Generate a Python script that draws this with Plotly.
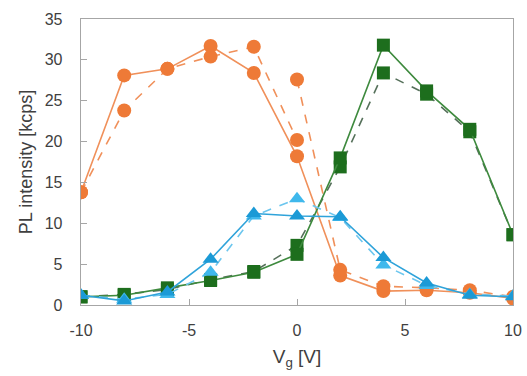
import plotly.graph_objects as go

vg = [-10, -8, -6, -4, -2, 0, 2, 4, 6, 8, 10]
vg_neg = [-10, -8, -6, -4, -2, 0]
vg_pos = [0, 2, 4, 6, 8, 10]

orange_solid = [13.8, 28.1, 28.9, 31.7, 28.4, 18.2, 3.6, 1.7, 1.8, 1.5, 0.8]
orange_dash_neg = [13.8, 23.8, 28.9, 30.4, 31.6, 20.2]
orange_dash_pos = [27.6, 4.3, 2.3, 2.1, 1.8, 1.0]

green_solid = [1.0, 1.2, 2.1, 3.0, 4.0, 6.2, 18.0, 31.8, 26.2, 21.5, 8.6]
green_dash = [1.0, 1.3, 1.9, 3.1, 4.1, 7.3, 16.9, 28.4, 25.8, 21.2, 8.6]

blue_solid = [1.2, 0.5, 1.6, 5.6, 11.2, 10.9, 10.8, 5.8, 2.7, 1.2, 1.0]
blue_dash = [1.2, 0.7, 1.3, 4.0, 10.9, 13.0, 10.7, 4.9, 2.4, 1.3, 1.1]

x_ticks = [-10, -5, 0, 5, 10]
y_ticks = [0, 5, 10, 15, 20, 25, 30, 35]

ORANGE = "#EE7A37"
ORANGE_LINE = "#F0905A"
GREEN = "#1D6E1D"
GREEN_LINE = "#3E8A3E"
GREEN_DASH = "#55705A"
BLUE = "#1B9AD6"
BLUE_LINE = "#2FA3DA"
BLUE_LIGHT = "#3FB8EC"
BLUE_LIGHT_LINE = "#6CC6EE"

fig = go.Figure()

def add(x, y, color, lcolor, symbol, dash, size):
    fig.add_trace(go.Scatter(
        x=x, y=y, mode="lines+markers",
        line=dict(color=lcolor, width=1.6, dash=dash),
        marker=dict(color=color, symbol=symbol, size=size,
                    line=dict(width=0)),
        showlegend=False, hoverinfo="skip"))

add(vg, orange_solid, ORANGE, ORANGE_LINE, "circle", "solid", 14)
add(vg_neg, orange_dash_neg, ORANGE, ORANGE_LINE, "circle", "dash", 14)
add(vg_pos, orange_dash_pos, ORANGE, ORANGE_LINE, "circle", "dash", 14)
add(vg, green_dash, GREEN, GREEN_DASH, "square", "dash", 13)
add(vg, green_solid, GREEN, GREEN_LINE, "square", "solid", 13)
add(vg, blue_dash, BLUE_LIGHT, BLUE_LIGHT_LINE, "triangle-up", "dash", 14)
add(vg, blue_solid, BLUE, BLUE_LINE, "triangle-up", "solid", 14)

axis_common = dict(
    showgrid=False, zeroline=False, showline=True, linecolor="#A6A6A6",
    linewidth=1.3, mirror=True, ticks="inside", ticklen=6,
    tickcolor="#A6A6A6", tickwidth=1,
    tickfont=dict(family="Liberation Sans, Arial, sans-serif", size=16, color="#404040"),
)

fig.update_layout(
    width=527, height=376,
    margin=dict(l=81, r=14, t=19, b=71),
    paper_bgcolor="white", plot_bgcolor="white",
    font=dict(family="Liberation Sans, Arial, sans-serif", color="#404040"),
    hovermode=False,
    xaxis=dict(range=[-10, 10], tickvals=x_ticks,
               ticktext=[str(v) for v in x_ticks],
               title=dict(text="V<sub>g</sub> [V]", font=dict(size=19), standoff=12),
               ticklabeloverflow="allow",
               **axis_common),
    yaxis=dict(range=[0, 35], tickvals=y_ticks,
               title=dict(text="PL intensity [kcps]", font=dict(size=18), standoff=7),
               ticklabeloverflow="allow",
               **axis_common),
)
fig.update_xaxes(automargin=False, ticklabelstandoff=10)
fig.update_yaxes(automargin=False, ticklabelstandoff=14)

fig.write_html(
    "out.html",
    config={"displayModeBar": False, "staticPlot": True},
    post_script="document.body.style.margin='0';document.body.style.overflow='hidden';",
)
